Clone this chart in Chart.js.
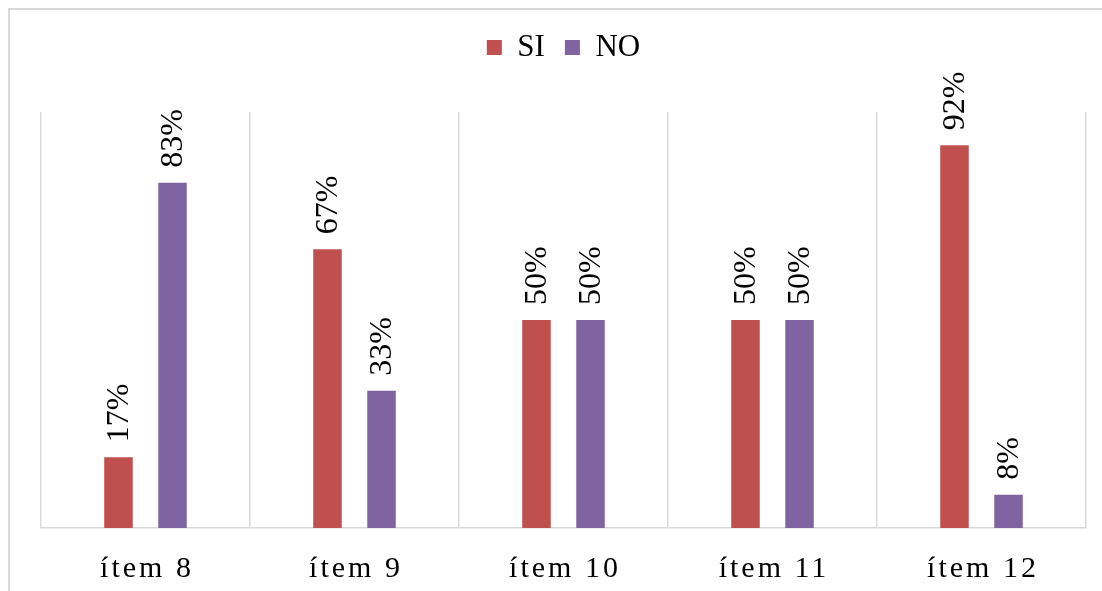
<!DOCTYPE html>
<html>
<head>
<meta charset="utf-8">
<script src="https://cdn.jsdelivr.net/npm/chart.js@4.4.1/dist/chart.umd.min.js"></script>
<style>
  html, body { margin: 0; padding: 0; background: #ffffff; overflow: hidden; }
  #frame { position: absolute; left: 8px; top: 8px; width: 1120px; height: 620px; border: 2px solid #d9d9d9; }
  #wrap { position: absolute; left: 0; top: 0; width: 1102px; height: 591px; }
</style>
</head>
<body>
<div id="frame"></div>
<div id="wrap"><canvas id="chart" width="1102" height="591"></canvas></div>
<script>
// Categories and series values (percent)
const categories = ['ítem 8', 'ítem 9', 'ítem 10', 'ítem 11', 'ítem 12'];
const seriesNames = ['SI', 'NO'];
const siValues = [17, 67, 50, 50, 92];
const noValues = [83, 33, 50, 50, 8];

const SERIF = '"Liberation Serif", "Times New Roman", serif';

// Rotated percentage labels above each bar
const valueLabels = {
  id: 'valueLabels',
  afterDatasetsDraw(chart) {
    const ctx = chart.ctx;
    ctx.save();
    ctx.font = '32px ' + SERIF;
    ctx.fillStyle = '#000000';
    ctx.textAlign = 'left';
    ctx.textBaseline = 'middle';
    chart.data.datasets.forEach((ds, i) => {
      chart.getDatasetMeta(i).data.forEach((bar, j) => {
        ctx.save();
        ctx.translate(bar.x + 1, bar.y - 15);
        ctx.rotate(-Math.PI / 2);
        ctx.fillText(ds.data[j] + '%', 0, 0);
        ctx.restore();
      });
    });
    ctx.restore();
  }
};

// Wider letter spacing for the category labels
const spacedTicks = {
  id: 'spacedTicks',
  beforeDraw(chart) {
    const s = chart.scales.x;
    if (!s || s._spaced) return;
    const orig = s.drawLabels.bind(s);
    s.drawLabels = function (area) {
      const ctx = this.ctx;
      ctx.save();
      ctx.letterSpacing = '3px';
      ctx.translate(1.5, 0);
      orig(area);
      ctx.restore();
    };
    s._spaced = true;
  }
};

// Reserve room between the legend and the plot area
const legendSpace = {
  id: 'legendSpace',
  beforeLayout(chart) {
    const lg = chart.legend;
    if (!lg || lg._spaced) return;
    const fit = lg.fit.bind(lg);
    lg.fit = function () { fit(); this.height = 100; };
    lg._spaced = true;
  }
};

new Chart(document.getElementById('chart'), {
  type: 'bar',
  data: {
    labels: categories,
    datasets: [
      { label: seriesNames[0], data: siValues, backgroundColor: '#C0504D', borderWidth: 0 },
      { label: seriesNames[1], data: noValues, backgroundColor: '#8064A2', borderWidth: 0 }
    ]
  },
  options: {
    responsive: false,
    devicePixelRatio: 1,
    animation: false,
    categoryPercentage: 0.517,
    barPercentage: 0.528,
    layout: { padding: { left: 41, right: 16, top: 12, bottom: 0 } },
    plugins: {
      legend: {
        position: 'top',
        labels: {
          boxWidth: 15,
          boxHeight: 15,
          padding: 20,
          color: '#000000',
          font: { family: SERIF, size: 31 }
        }
      },
      tooltip: { enabled: false }
    },
    scales: {
      x: {
        grid: { color: '#d9d9d9', lineWidth: 1.5, drawTicks: false, offset: true },
        border: { color: '#d9d9d9', width: 1.5 },
        ticks: { color: '#000000', font: { family: SERIF, size: 30 }, padding: 23 },
        afterFit(scale) { scale.height = 63; }
      },
      y: {
        display: false,
        min: 0,
        max: 100
      }
    }
  },
  plugins: [valueLabels, spacedTicks, legendSpace]
});
</script>
</body>
</html>
